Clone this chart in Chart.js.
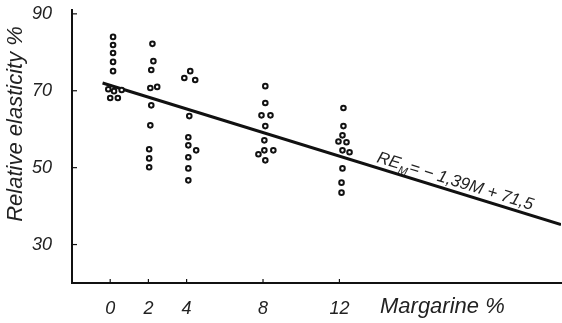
<!DOCTYPE html>
<html>
<head>
<meta charset="utf-8">
<script src="https://cdn.jsdelivr.net/npm/chart.js@4"></script>
<style>
  html, body { margin: 0; padding: 0; background: #fff; }
  #wrap { width: 562px; height: 323px; }
</style>
</head>
<body>
<div id="wrap"><canvas id="elasticityChart"></canvas></div>
<script>
// values (margarine % vs relative elasticity %)
const margarine0 = [0.15, 0.15, 0.15, 0.15, 0.15, -0.1, 0.2, 0.6, 0, 0.4];
const elasticity0 = [84.0, 81.9, 79.8, 77.5, 75.1, 70.4, 69.9, 70.2, 68.1, 68.1];
const margarine2 = [2.21, 2.26, 2.15, 2.1, 2.46, 2.15, 2.1, 2.04, 2.04, 2.04];
const elasticity2 = [82.2, 77.7, 75.4, 70.7, 71.0, 66.2, 61.0, 54.8, 52.4, 50.1];
const margarine4 = [4.19, 3.88, 4.45, 4.14, 4.09, 4.09, 4.5, 4.09, 4.09, 4.09];
const elasticity4 = [75.1, 73.3, 72.8, 63.4, 57.9, 55.8, 54.5, 52.7, 49.8, 46.7];
const margarine8 = [8.12, 8.12, 7.92, 8.39, 8.12, 8.07, 8.07, 7.76, 8.54, 8.12];
const elasticity8 = [71.2, 66.8, 63.6, 63.6, 60.8, 57.1, 54.5, 53.5, 54.5, 51.9];
const margarine12 = [12.21, 12.21, 12.16, 11.95, 12.37, 12.16, 12.53, 12.16, 12.11, 12.11];
const elasticity12 = [65.5, 60.8, 58.4, 56.8, 56.6, 54.5, 54.0, 49.8, 46.1, 43.5];

// fitted line as drawn (end points)
const fitMargarine = [-0.4, 23.6];
const fitElasticity = [72.0, 35.2];

const xTicks = [0, 2, 4, 8, 12];
const yTicks = [30, 50, 70, 90];

const ink = '#111';

function pts(xs, ys) {
    return xs.map((x, i) => ({ x: x, y: ys[i] }));
}

const allX = [].concat(margarine0, margarine2, margarine4, margarine8, margarine12);
const allY = [].concat(elasticity0, elasticity2, elasticity4, elasticity8, elasticity12);

// inside tick marks, axis titles and the equation
const extras = {
    id: 'extras',
    afterDraw(chart) {
        const ctx = chart.ctx;
        const xs = chart.scales.x, ys = chart.scales.y;
        const area = chart.chartArea;
        ctx.save();
        ctx.strokeStyle = ink;
        ctx.lineWidth = 1.2;
        xTicks.forEach(v => {
            const px = xs.getPixelForValue(v);
            ctx.beginPath();
            ctx.moveTo(px, area.bottom);
            ctx.lineTo(px, area.bottom - 4);
            ctx.stroke();
        });
        yTicks.forEach(v => {
            const py = ys.getPixelForValue(v);
            ctx.beginPath();
            ctx.moveTo(area.left, py);
            ctx.lineTo(area.left + 5, py);
            ctx.stroke();
        });

        ctx.fillStyle = '#222';
        ctx.font = 'italic 22px "Liberation Sans"';
        ctx.textBaseline = 'middle';
        ctx.textAlign = 'left';
        ctx.fillText('Margarine %', 380, 307);

        ctx.save();
        ctx.translate(16, 124);
        ctx.rotate(-Math.PI / 2);
        ctx.textAlign = 'center';
        ctx.fillText('Relative elasticity %', 0, 0);
        ctx.restore();

        // equation along the fitted line
        const x1 = xs.getPixelForValue(fitMargarine[0]), y1 = ys.getPixelForValue(fitElasticity[0]);
        const x2 = xs.getPixelForValue(fitMargarine[1]), y2 = ys.getPixelForValue(fitElasticity[1]);
        const ang = Math.atan2(y2 - y1, x2 - x1);
        ctx.save();
        ctx.translate(376, 162);
        ctx.rotate(ang);
        ctx.textBaseline = 'alphabetic';
        ctx.textAlign = 'left';
        ctx.font = 'italic 17px "Liberation Sans"';
        ctx.fillText('RE', 0, 0);
        let w = ctx.measureText('RE').width;
        ctx.font = 'italic 11px "Liberation Sans"';
        ctx.fillText('M', w, 4);
        w += ctx.measureText('M').width + 1;
        ctx.font = 'italic 17px "Liberation Sans"';
        ctx.fillText('= \u2212 1,39M + 71,5', w, 0);
        ctx.restore();

        ctx.restore();
    }
};

const ctx = document.querySelector('#elasticityChart').getContext('2d');
const elasticityChart = new Chart(ctx, {
    type: 'scatter',
    data: {
        datasets: [{
            label: 'Samples',
            data: pts(allX, allY),
            pointRadius: 2.3,
            pointBorderWidth: 2,
            pointBorderColor: ink,
            pointBackgroundColor: '#fff'
        }, {
            type: 'line',
            label: 'Fit',
            data: pts(fitMargarine, fitElasticity),
            borderColor: ink,
            borderWidth: 3,
            pointRadius: 0,
            fill: false
        }]
    },
    options: {
        responsive: true,
        maintainAspectRatio: false,
        animation: false,
        layout: { autoPadding: false, padding: { top: 10, right: 1, left: 0, bottom: 0 } },
        plugins: {
            legend: { display: false },
            tooltip: { enabled: false }
        },
        scales: {
            x: {
                type: 'linear',
                min: -2,
                max: 23.6,
                afterFit(scale) {
                    scale.height = 40;
                    scale.paddingLeft = 0;
                    scale.paddingRight = 0;
                },
                afterBuildTicks(scale) { scale.ticks = xTicks.map(v => ({ value: v })); },
                grid: { display: false, drawTicks: false },
                border: { display: true, color: ink, width: 2 },
                ticks: {
                    padding: 15,
                    color: '#222',
                    font: { family: 'Liberation Sans', size: 18, style: 'italic' },
                    maxRotation: 0
                }
            },
            y: {
                type: 'linear',
                min: 20,
                max: 91,
                afterFit(scale) {
                    scale.width = 72;
                    scale.paddingTop = 0;
                    scale.paddingBottom = 0;
                },
                afterBuildTicks(scale) { scale.ticks = yTicks.map(v => ({ value: v })); },
                grid: { display: false, drawTicks: false },
                border: { display: true, color: ink, width: 2 },
                ticks: {
                    padding: 20,
                    color: '#222',
                    font: { family: 'Liberation Sans', size: 18, style: 'italic' }
                }
            }
        }
    },
    plugins: [extras]
});
</script>
</body>
</html>
